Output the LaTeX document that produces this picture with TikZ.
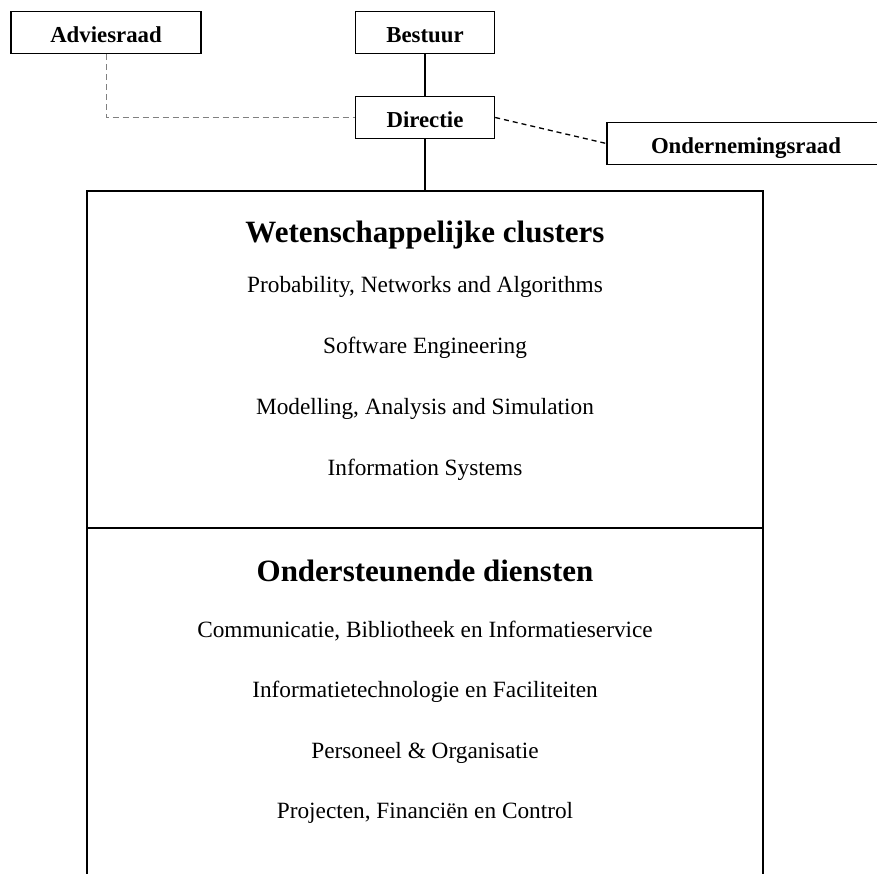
\documentclass[tikz,border=0pt]{standalone}
\usepackage{fontspec}
\setmainfont{Liberation Serif}
\begin{document}
\begin{tikzpicture}[x=1pt,y=-1pt,
    orgaan/.style={draw, line width=1.4pt, inner sep=0pt, minimum height=42pt,
      text height=21pt, text depth=0pt, font=\fontsize{22.8}{27}\selectfont\bfseries},
    deel/.style={draw, line width=1.4pt, inner sep=0pt, minimum width=676pt},
    kop/.style={anchor=base, font=\fontsize{31}{37}\selectfont\bfseries},
    item/.style={anchor=base, font=\fontsize{23.3}{28}\selectfont},
    lijn/.style={line width=1.4pt},
    stippel/.style={line width=0.9pt, gray, dash pattern=on 6pt off 4pt},
    streep/.style={line width=1.3pt, dash pattern=on 5pt off 4pt}]
  \useasboundingbox (0,0) rectangle (877,874);
  \clip (0,0) rectangle (877,874);

  %% bestuursorganen
  \node [orgaan, minimum width=190pt] (advies) at (106,32.5) {Adviesraad};
  \node [orgaan, minimum width=139pt] (bestuur) at (425,32.5) {Bestuur};
  \node [orgaan, minimum width=139pt] (directie) at (425,117.5) {Directie};
  \node [orgaan, minimum width=278pt] (or) at (746,143.5) {Ondernemingsraad};

  %% de instituutsdelen
  \node [deel, minimum height=337pt] (clusters) at (425,359.5) {};
  \node [deel, minimum height=376pt] (diensten) at (425,716) {};

  \node [kop] (kopclusters) at (425,243) {Wetenschappelijke clusters};
  \foreach \naam [count=\i] in {{Probability, Networks and Algorithms},
      {Software Engineering}, {Modelling, Analysis and Simulation},
      {Information Systems}}
    \node [item] (cluster\i) at (425,{231+61*\i}) {\naam};

  \node [kop] (kopdiensten) at (425,581) {Ondersteunende diensten};
  \foreach \naam [count=\i] in {{Communicatie, Bibliotheek en Informatieservice},
      {Informatietechnologie en Faciliteiten}, {Personeel \& Organisatie},
      {Projecten, Financiën en Control}}
    \node [item] (dienst\i) at (425,{576.5+60.5*\i}) {\naam};

  %% verbindingen
  \draw [lijn] (bestuur) -- (directie);
  \draw [lijn] (directie) -- (clusters);
  \draw [stippel] (advies.south) |- (directie.west);
  \draw [streep] (directie.east) -- (or.west);

\end{tikzpicture}
\end{document}
